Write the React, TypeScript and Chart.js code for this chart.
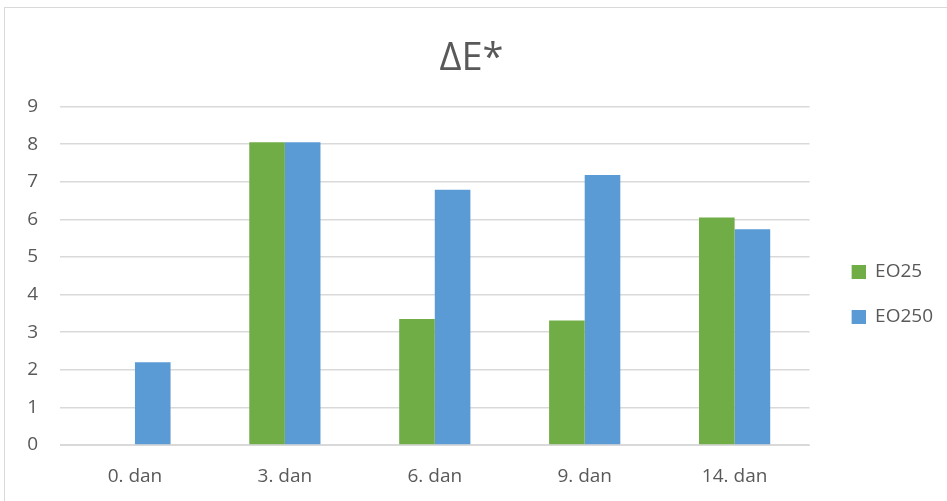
import React, { useEffect, useRef } from "react";
import { Chart, registerables } from "chart.js";

Chart.register(...registerables);

const categories = ["0. dan", "3. dan", "6. dan", "9. dan", "14. dan"];
const seriesNames = ["EO25", "EO250"];
const eo25Values = [0, 8.05, 3.35, 3.31, 6.05];
const eo250Values = [2.2, 8.05, 6.79, 7.18, 5.74];
const seriesColors = ["#70AD47", "#5B9BD5"];
const yMin = 0;
const yMax = 9;
const yStep = 1;
const titleText = "ΔE*";

const FONT = "'Open Sans', 'Noto Sans', sans-serif";
const TEXT = "#595959";
const GRID = "#d9d9d9";

const SWATCH_W = 30;
const SWATCH_BOX = 14;

function makeSwatch(color: string): HTMLCanvasElement {
  const c = document.createElement("canvas");
  c.width = SWATCH_W;
  c.height = SWATCH_BOX;
  const ctx = c.getContext("2d");
  if (ctx) {
    ctx.fillStyle = color;
    ctx.fillRect(SWATCH_W - SWATCH_BOX, 0, SWATCH_BOX, SWATCH_BOX);
  }
  return c;
}

export default function App() {
  const ref = useRef<HTMLCanvasElement | null>(null);

  useEffect(() => {
    if (!ref.current) return;
    const swatches = seriesColors.map(makeSwatch);
    const chart = new Chart(ref.current, {
      type: "bar",
      data: {
        labels: categories,
        datasets: [
          {
            label: seriesNames[0],
            data: eo25Values,
            backgroundColor: seriesColors[0],
            borderWidth: 0,
            categoryPercentage: 0.475,
            barPercentage: 1,
          },
          {
            label: seriesNames[1],
            data: eo250Values,
            backgroundColor: seriesColors[1],
            borderWidth: 0,
            categoryPercentage: 0.475,
            barPercentage: 1,
          },
        ],
      },
      options: {
        responsive: false,
        animation: false,
        layout: { padding: { left: 0, right: 4, top: 0, bottom: 0 } },
        plugins: {
          title: {
            display: true,
            text: titleText,
            color: TEXT,
            font: { family: FONT, size: 38, weight: "normal" },
            padding: { top: 36, bottom: 25 },
          },
          legend: {
            position: "right",
            title: {
              display: true,
              text: " ",
              font: { family: FONT, size: 10 },
              padding: 38,
            },
            labels: {
              usePointStyle: true,
              pointStyleWidth: SWATCH_W,
              boxHeight: SWATCH_BOX,
              color: TEXT,
              font: { family: FONT, size: 19 },
              padding: 26,
              generateLabels: (ch: any) =>
                ch.data.datasets.map((ds: any, i: number) => ({
                  text: ds.label,
                  fillStyle: ds.backgroundColor,
                  strokeStyle: ds.backgroundColor,
                  lineWidth: 0,
                  hidden: false,
                  datasetIndex: i,
                  pointStyle: swatches[i],
                  fontColor: TEXT,
                })),
            },
          },
          tooltip: { enabled: false },
        },
        scales: {
          x: {
            grid: { display: false },
            border: { color: GRID },
            ticks: { color: TEXT, font: { family: FONT, size: 19 }, padding: 12 },
            afterFit: (s: any) => {
              s.height = 56;
            },
          },
          y: {
            min: yMin,
            max: yMax,
            ticks: { stepSize: yStep, color: TEXT, font: { family: FONT, size: 19 }, padding: 22 },
            grid: { color: GRID, drawTicks: false, lineWidth: 1.5 },
            border: { display: false },
            afterFit: (s: any) => {
              s.width = 60;
            },
          },
        },
      },
    });
    return () => chart.destroy();
  }, []);

  return (
    <div
      style={{
        position: "absolute",
        left: 0,
        top: 0,
        width: 947,
        height: 501,
        overflow: "hidden",
        background: "#ffffff",
      }}
    >
      <div
        style={{
          position: "absolute",
          left: 4,
          top: 7,
          width: 1000,
          height: 600,
          border: "1.5px solid #d9d9d9",
        }}
      />
      <canvas
        ref={ref}
        width={947}
        height={501}
        style={{ position: "absolute", left: 0, top: 0, width: 947, height: 501 }}
      />
    </div>
  );
}
